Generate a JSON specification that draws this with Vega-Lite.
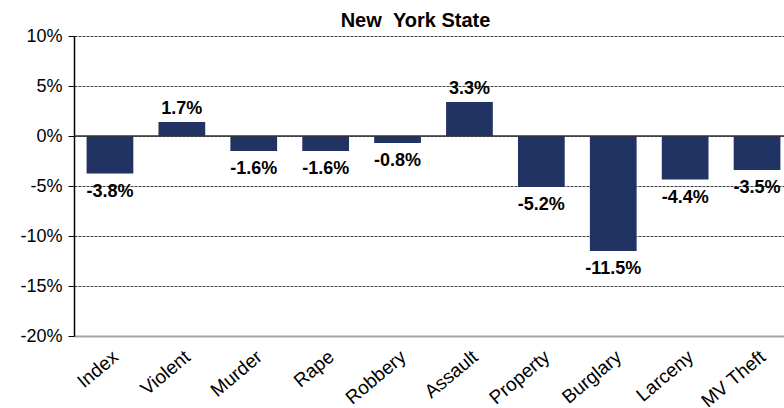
{
  "$schema": "https://vega.github.io/schema/vega-lite/v6.json",
  "autosize": {"type": "none"},
  "padding": {"left": 74, "top": 36, "right": 0, "bottom": 72},
  "width": 719,
  "height": 300,
  "title": {
    "text": "New \u00a0York State",
    "fontSize": 20,
    "fontWeight": "bold",
    "font": "Liberation Sans",
    "color": "#000000",
    "anchor": "middle",
    "dx": -18,
    "offset": -4
  },
  "data": {
    "values": [
      {"crime": "Index", "bar": -3.75, "label": "-3.8%"},
      {"crime": "Violent", "bar": 1.4, "label": "1.7%"},
      {"crime": "Murder", "bar": -1.5, "label": "-1.6%"},
      {"crime": "Rape", "bar": -1.5, "label": "-1.6%"},
      {"crime": "Robbery", "bar": -0.7, "label": "-0.8%"},
      {"crime": "Assault", "bar": 3.4, "label": "3.3%"},
      {"crime": "Property", "bar": -5.1, "label": "-5.2%"},
      {"crime": "Burglary", "bar": -11.5, "label": "-11.5%"},
      {"crime": "Larceny", "bar": -4.35, "label": "-4.4%"},
      {"crime": "MV Theft", "bar": -3.4, "label": "-3.5%"}
    ]
  },
  "encoding": {
    "x": {
      "field": "crime",
      "type": "nominal",
      "sort": null,
      "scale": {"paddingInner": 0.35, "paddingOuter": 0.175},
      "axis": {
        "title": null,
        "labelAngle": -40,
        "labelAlign": "right",
        "labelBaseline": "top",
        "labelFontSize": 19,
        "labelFont": "Liberation Sans",
        "labelColor": "#000000",
        "labelPadding": 11,
        "ticks": false,
        "domainColor": "#a6a6a6",
        "domainWidth": 2,
        "grid": false
      }
    }
  },
  "layer": [
    {
      "mark": {"type": "bar", "color": "#213362"},
      "encoding": {
        "y": {
          "field": "bar",
          "type": "quantitative",
          "scale": {"domain": [-20, 10], "nice": false},
          "axis": {
            "title": null,
            "values": [-20, -15, -10, -5, 0, 5, 10],
            "labelExpr": "datum.value + '%'",
            "labelFontSize": 18,
            "labelFont": "Liberation Sans",
            "labelColor": "#000000",
            "labelPadding": 6,
            "tickSize": 6,
            "tickColor": "#000000",
            "domainColor": "#000000",
            "domainWidth": 1.5,
            "grid": true,
            "gridDash": [3, 1],
            "gridColor": "#444444",
            "gridWidth": 1.2,
            "zindex": 0
          }
        }
      }
    },
    {
      "data": {"values": [{"z": 0}]},
      "mark": {"type": "rule", "color": "#333333", "strokeWidth": 1.5},
      "encoding": {"y": {"field": "z", "type": "quantitative"}, "x": {"value": 0}, "x2": {"value": 719}}
    },
    {
      "transform": [{"filter": "datum.bar >= 0"}],
      "mark": {"type": "text", "baseline": "bottom", "dy": -4, "fontSize": 18, "fontWeight": "bold", "font": "Liberation Sans", "color": "#000000"},
      "encoding": {
        "y": {"field": "bar", "type": "quantitative"},
        "text": {"field": "label", "type": "nominal"}
      }
    },
    {
      "transform": [{"filter": "datum.bar < 0"}],
      "mark": {"type": "text", "baseline": "top", "dy": 9, "fontSize": 18, "fontWeight": "bold", "font": "Liberation Sans", "color": "#000000"},
      "encoding": {
        "y": {"field": "bar", "type": "quantitative"},
        "text": {"field": "label", "type": "nominal"}
      }
    }
  ],
  "config": {"view": {"stroke": null}}
}
